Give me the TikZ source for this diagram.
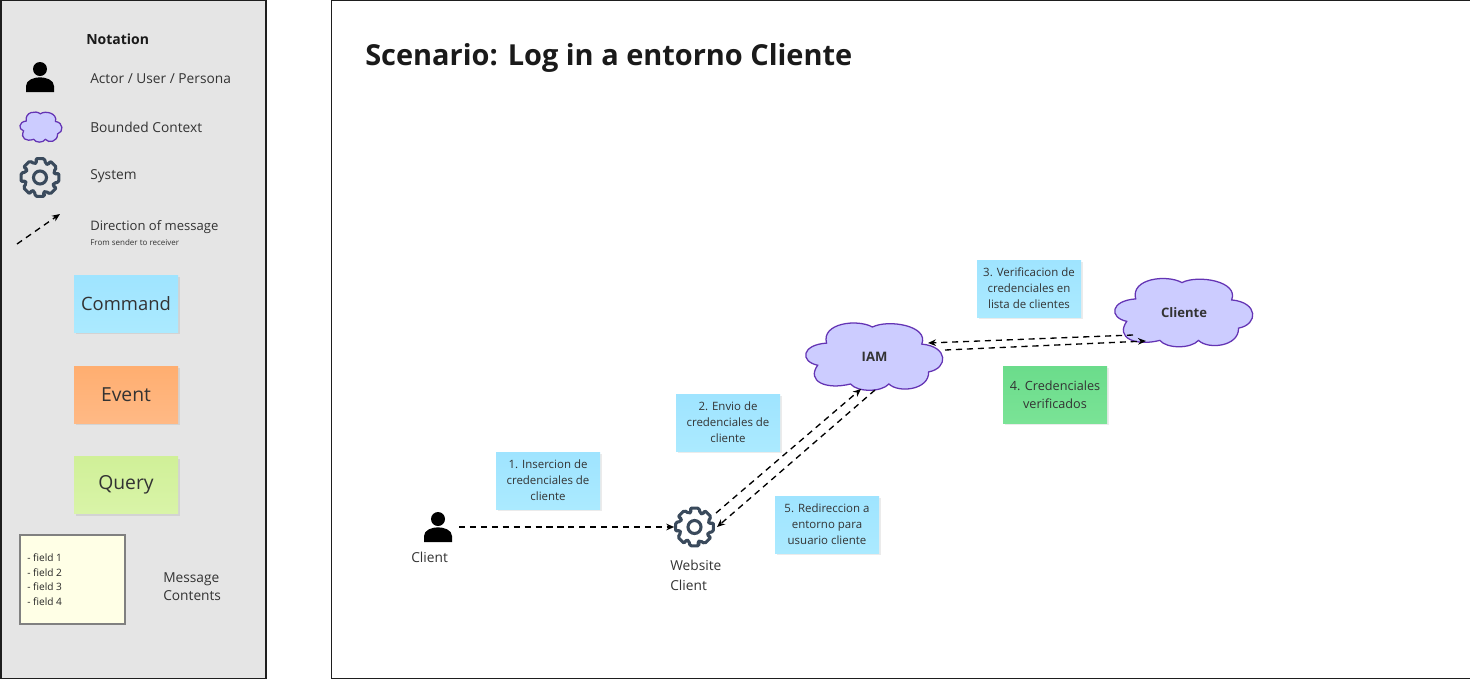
\documentclass[tikz,border=0pt]{standalone}
\usepackage{fontspec}
\setmainfont{Open Sans}
\usetikzlibrary{arrows.meta,shadows,calc}
\definecolor{inkc}{HTML}{333333}
\definecolor{titlec}{HTML}{1A1A1A}
\definecolor{panelc}{HTML}{E5E5E5}
\definecolor{framec}{HTML}{1E1E1E}
\definecolor{cloudf}{HTML}{CCCCFF}
\definecolor{clouds}{HTML}{6434B4}
\definecolor{gearc}{HTML}{3A4A5C}
\definecolor{cmdt}{HTML}{9FE4FF}
\definecolor{cmdb}{HTML}{ABEAFF}
\definecolor{evt}{HTML}{FFAE70}
\definecolor{evb}{HTML}{FFB985}
\definecolor{qrt}{HTML}{D0F098}
\definecolor{qrb}{HTML}{D9F4A8}
\definecolor{okt}{HTML}{6BDC8B}
\definecolor{okb}{HTML}{7AE396}
\definecolor{notef}{HTML}{FFFFE6}
\definecolor{notes}{HTML}{808080}
\newcommand{\fs}[2]{\fontsize{#1}{#2}\selectfont}
\tikzset{
  x=0.75pt,y=-0.75pt,
  panel/.style={draw=framec,line width=1.2pt},
  lbl/.style={anchor=west,inner sep=0pt,text=inkc,font=\fs{10.3}{14},align=left},
  sticky/.style={inner sep=0pt,minimum width=78pt,minimum height=42.75pt,align=center,text=inkc,
    drop shadow={shadow xshift=1.2pt,shadow yshift=-1.5pt,opacity=.08,fill=black}},
  cmdnote/.style={sticky,top color=cmdt,bottom color=cmdb,font=\fs{8.6}{12}},
  bigcmd/.style={sticky,top color=cmdt,bottom color=cmdb,font=\fs{13.8}{18}},
  bigevt/.style={sticky,top color=evt,bottom color=evb,font=\fs{14.5}{18}},
  bigqry/.style={sticky,top color=qrt,bottom color=qrb,font=\fs{14.5}{18}},
  oknote/.style={sticky,top color=okt,bottom color=okb,font=\fs{9.5}{13.5}},
  msg/.style={draw=black,line width=1pt,dash pattern=on 4.6pt off 3.6pt,-{Stealth[length=6pt,width=5pt]}},
  anchorbox/.style={inner sep=0pt,align=center},
}
% name, cx, cy, half width, half height, text, font
\newcommand{\cloudat}[7]{%
  \begin{scope}[shift={(#2,#3)},xscale=#4,yscale=#5]
    \draw[fill=cloudf,draw=clouds,line width=0.95pt]
      (-0.83,0.26) .. controls (-1.09,0.15) and (-1.07,-0.35) .. (-0.70,-0.40)
      .. controls (-0.78,-1.0) and (-0.25,-1.13) .. (-0.03,-0.88)
      .. controls (0.2,-1.12) and (0.8,-0.92) .. (0.69,-0.37)
      .. controls (1.08,-0.3) and (1.08,0.35) .. (0.79,0.46)
      .. controls (0.8,1.0) and (0.35,1.1) .. (0.21,0.82)
      .. controls (0.1,1.07) and (-0.25,1.07) .. (-0.35,0.82)
      .. controls (-0.7,1.0) and (-1.0,0.75) .. (-0.83,0.26) -- cycle;
  \end{scope}
  \node[anchorbox,minimum width=#4*1.5pt,minimum height=#5*1.5pt,font=#7,text=inkc] (#1) at (#2,#3) {#6};
}
% name, cx, cy
\newcommand{\gearat}[3]{%
  \begin{scope}[shift={(#2,#3)}]
    \draw[draw=gearc,line width=2.3pt,rounded corners=1.2pt,line join=round]
      (76:19.5)
      \foreach \a in {0,45,...,315}{
        -- (\a+76:19.5) -- (\a+104:19.5) -- (\a+111:15) -- (\a+124:15)
      } -- cycle;
    \draw[draw=gearc,line width=2.3pt] (0,0) circle[radius=6.5];
  \end{scope}
  \node[anchorbox,minimum width=30pt,minimum height=30pt] (#1) at (#2,#3) {};
}
% name, cx, top y
\newcommand{\personat}[3]{%
  \begin{scope}[shift={(#2,#3)}]
    \fill[black] (0,7) circle[radius=7];
    \fill[black] (-14,30) -- (-14,24) .. controls (-14,18) and (-6,15.3) .. (0,15.3)
       .. controls (6,15.3) and (14,18) .. (14,24) -- (14,30) -- cycle;
  \end{scope}
  \node[anchorbox,minimum width=21pt,minimum height=22.5pt] (#1) at (#2,#3+15) {};
}
\begin{document}
\begin{tikzpicture}
\useasboundingbox (0,0) rectangle (1470,679);
\fill[white] (0,0) rectangle (1470,679);
% panels
\draw[panel,fill=panelc] (1,0) rectangle (266,678.5);
\draw[panel,fill=white] (331.5,0) rectangle (1472,678.5);
% legend
\node[lbl,font=\fs{10.5}{14}\bfseries,text=titlec] (legendtitle) at (86,39) {Notation};
\personat{legendperson}{40}{62}
\node[lbl] (legendactor) at (90,79) {Actor / User / Persona};
\cloudat{legendcloud}{41}{127}{21}{15}{}{\fs{8}{10}}
\node[lbl] (legendbc) at (90,127) {Bounded Context};
\gearat{legendgear}{40}{177.5}
\node[lbl] (legendsys) at (90,176.5) {System};
\coordinate (legendfrom) at (17,244);
\coordinate (legendto) at (60,214);
\draw[msg] (legendfrom) -- (legendto);
\node[lbl,font=\fs{9.8}{14}] (legenddir) at (90,227.5) {Direction of message};
\node[lbl,font=\fs{6}{7}] (legendsub) at (90,242) {From sender to receiver};
\node[bigcmd] (legendcmd) at (126,303.5) {Command};
\node[bigevt] (legendevt) at (126,394.5) {Event};
\node[bigqry] (legendqry) at (126,485) {Query};
\node[draw=notes,fill=notef,line width=1.5pt,minimum width=78.5pt,minimum height=66.5pt,inner sep=0pt] (legendnote) at (72.5,579.5) {};
\node[lbl,font=\fs{7.6}{10.9},text=black!85] (legendfields) at (27,579.5) {- field 1\\- field 2\\- field 3\\- field 4};
\node[lbl] (legendmsg) at (163,586.5) {Message\\Contents};
% title
\node[anchor=west,inner sep=0pt,text=titlec,font=\fs{21.7}{26}\bfseries] (title) at (365,58) {Scenario: Log in a entorno Cliente};
% actors and systems
\personat{client}{438}{512}
\node[lbl] (clientlbl) at (411,557) {Client};
\gearat{website}{694.5}{527}
\node[lbl,font=\fs{10.3}{15}] (websitelbl) at (670,575) {Website\\Client};
\cloudat{iam}{874.5}{356.5}{68.5}{33.5}{\raisebox{-1.5pt}{IAM}}{\fs{9.8}{12}\bfseries}
\cloudat{cliente}{1184}{312.5}{69}{34}{\raisebox{-0.5pt}{Cliente}}{\fs{9.8}{12}\bfseries}
% stickies
\node[cmdnote] (n1) at (548,480.5) {1. Insercion de\\credenciales de\\cliente};
\node[cmdnote] (n2) at (728,422.5) {2. Envio de\\credenciales de\\cliente};
\node[cmdnote] (n5) at (827,524.5) {5. Redireccion a\\entorno para\\usuario cliente};
\node[cmdnote] (n3) at (1029,288.5) {3. Verificacion de\\credenciales en\\lista de clientes};
\node[oknote] (n4) at (1055,394.5) {4. Credenciales\\verificados};
% connectors
\draw[msg] ([shift={(21,0)}]client.center |- website.center) -- (website.west);
\draw[msg] ([shift={(21.5,-14)}]website.center) -- ([shift={(-13.5,32.5)}]iam.center);
\draw[msg] ([shift={(0.5,33.5)}]iam.center) -- ([shift={(22.5,0)}]website.center);
\draw[msg] ([shift={(-51,22.5)}]cliente.center) -- ([shift={(53.5,-13.5)}]iam.center);
\draw[msg] ([shift={(70.5,-6.5)}]iam.center) -- ([shift={(-38,28.5)}]cliente.center);
\end{tikzpicture}
\end{document}
